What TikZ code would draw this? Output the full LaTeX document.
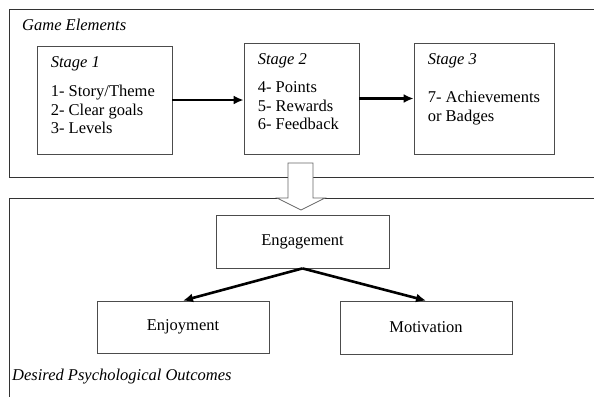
\documentclass[tikz,border=0pt]{standalone}
\usepackage{fontspec}
\setmainfont{Liberation Serif}
\usetikzlibrary{arrows.meta}

\tikzset{
  box/.style={draw=black!70, line width=0.8pt, inner sep=0pt},
  frame/.style={draw=black!80, line width=0.8pt},
  txt/.style={inner sep=0pt, font=\fontsize{16.5}{18.5}\selectfont},
  item/.style={txt, anchor=base west, align=left},
  flow/.style={-{Latex[length=10pt,width=9pt]}, line width=2.6pt},
}

\begin{document}
\begin{tikzpicture}[x=1pt,y=-1pt]
\useasboundingbox (0,0) rectangle (594,397);
\draw[frame] (594,9) -- (9,9) -- (9,177) -- (594,177);
\draw[frame] (594,198) -- (9,198) -- (9,397);
\node[item] (ge) at (22,30) {\textit{Game Elements}};
\node[item] (dpo) at (12,380) {\textit{Desired Psychological Outcomes}};

\node[box, minimum width=135pt, minimum height=108pt] (s1) at (104.5,100) {};
\node[box, minimum width=115pt, minimum height=111pt] (s2) at (301.5,98.5) {};
\node[box, minimum width=140pt, minimum height=111pt] (s3) at (484,98.5) {};
\node[item] (s1t) at ([xshift=14pt,yshift=-88pt]s1.north west)
  {\textit{Stage 1}\\[10.5pt]1- Story/Theme\\2- Clear goals\\3- Levels};
\node[item] (s2t) at ([xshift=14pt,yshift=-87pt]s2.north west)
  {\textit{Stage 2}\\[9.5pt]4- Points\\5- Rewards\\6- Feedback};
\node[item] (s3t) at ([xshift=14pt,yshift=-78.5pt]s3.north west)
  {\textit{Stage 3}\\[19.5pt]7- Achievements\\or Badges};
\draw[flow] (s1.east) -- (s1.east -| s2.west);
\draw[flow] (s2.east) -- (s2.east -| s3.west);

\draw[draw=black!60, fill=white, line width=0.8pt]
  (288,163) -- (313,163) -- (313,198) -- (325,198) -- (301,210)
  -- (277,198) -- (288,198) -- cycle;

\node[box, txt, minimum width=173pt, minimum height=53pt] (eng) at (302.5,241.5) {Engagement};
\node[box, txt, minimum width=172pt, minimum height=52pt] (enj) at (183,327) {Enjoyment};
\node[box, txt, minimum width=172pt, minimum height=53pt] (mot) at (426,327.5) {Motivation};
\foreach \t in {enj,mot}
\draw[flow] (eng.south) -- (\t.north);

\end{tikzpicture}
\end{document}
